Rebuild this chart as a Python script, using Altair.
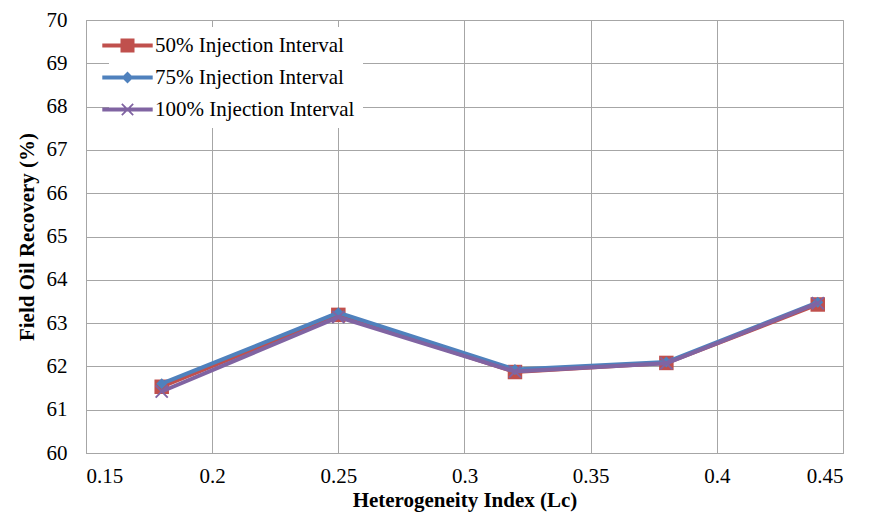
import altair as alt
import pandas as pd

x_vals = [0.18, 0.25, 0.32, 0.38, 0.44]
s50 = [61.53, 63.19, 61.87, 62.08, 63.43]
s75 = [61.60, 63.24, 61.93, 62.10, 63.48]
s100 = [61.42, 63.14, 61.88, 62.07, 63.46]
series_names = ["50% Injection Interval", "75% Injection Interval", "100% Injection Interval"]
colors = ["#C0504D", "#4F81BD", "#8064A2"]

rows = []
for name, vals in zip(series_names, [s50, s75, s100]):
    for xv, yv in zip(x_vals, vals):
        rows.append({"x": xv, "y": yv, "series": name})
df = pd.DataFrame(rows)

d = 0.2
xpath = ("M0,-{d}L{a},-1L1,-{a}L{d},0L1,{a}L{a},1L0,{d}L-{a},1L-1,{a}L-{d},0L-1,-{a}L-{a},-1Z"
         .format(d=d, a=1 - d))
square = "M-1,-1H1V1H-1Z"
diamond = "M0,-1L1,0L0,1L-1,0Z"
markers = [square, diamond, xpath]
sizes = [210, 120, 180]

line_seg = "M-3.6,-0.29H3.6V0.29H-3.6Z "
leg_square = "M-1,-1H1V1H-1Z"
leg_diamond = "M0,-0.85L0.85,0L0,0.85L-0.85,0Z"
dl = 0.18
a2 = 0.9
leg_x = ("M0,-{d}L{a},-{b}L{b},-{a}L{d},0L{b},{a}L{a},{b}L0,{d}L-{a},{b}L-{b},{a}L-{d},0L-{b},-{a}L-{a},-{b}Z"
         .format(d=dl, a=a2 - dl, b=a2))
legend_paths = [line_seg + leg_square, line_seg + leg_diamond, line_seg + leg_x]

font = "Liberation Serif"
xs = alt.X("x:Q", scale=alt.Scale(domain=[0.15, 0.45], nice=False, zero=False),
           axis=alt.Axis(values=[0.15, 0.2, 0.25, 0.3, 0.35, 0.4, 0.45], format=".2~f",
                         title="Heterogeneity Index (Lc)"))
ys = alt.Y("y:Q", scale=alt.Scale(domain=[60, 70], nice=False, zero=False),
           axis=alt.Axis(values=list(range(60, 71)), title="Field Oil Recovery (%)"))

base = alt.Chart(df)
layers = []
for name, col, mk, sz in zip(series_names, colors, markers, sizes):
    sub = base.transform_filter(alt.datum.series == name)
    layers.append(sub.mark_line(color=col, strokeWidth=4).encode(x=xs, y=ys))
    layers.append(sub.mark_point(shape=mk, filled=True, color=col, size=sz, opacity=1,
                                 strokeWidth=0).encode(x=xs, y=ys))

leg = alt.Legend(title=None, orient="none", legendX=23, legendY=7,
                 symbolOpacity=1, symbolSize=196, symbolStrokeWidth=0,
                 labelOffset=17, rowPadding=10, padding=8,
                 fillColor="white", labelFont=font, labelFontSize=21,
                 labelColor="#000000", labelLimit=400)
legend_layer = base.mark_point(filled=True, opacity=0).encode(
    x=xs, y=ys,
    color=alt.Color("series:N", scale=alt.Scale(domain=series_names, range=colors), legend=leg),
    shape=alt.Shape("series:N", scale=alt.Scale(domain=series_names, range=legend_paths), legend=leg),
)

chart = alt.layer(*layers, legend_layer).properties(
    width=757, height=433,
    autosize=alt.AutoSizeParams(type="none"),
    padding={"left": 78, "top": 12, "right": 22, "bottom": 60},
    background="white",
).configure(font=font).configure_view(stroke="#A6A6A6", strokeWidth=1).configure_axis(
    grid=True, gridColor="#A6A6A6", gridWidth=1, domainColor="#A6A6A6",
    ticks=False, labelFont=font, labelFontSize=21, labelColor="#000000",
    titleFont=font, titleFontSize=21, titleFontWeight="bold", titleColor="#000000",
).configure_axisX(labelPadding=12, titlePadding=3).configure_axisY(
    labelPadding=19, titlePadding=9).configure_legend(labelFont=font)

chart.save("out.html", embed_options={"renderer": "svg", "actions": False})
